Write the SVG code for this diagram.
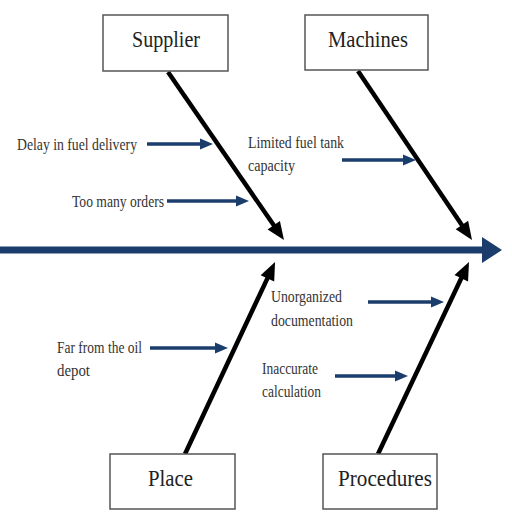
<svg xmlns="http://www.w3.org/2000/svg" width="512" height="512" viewBox="0 0 512 512">
<style>
.box{fill:#fff;stroke:#555;stroke-width:1.5}
.title{font-family:"Liberation Serif","Times New Roman",serif;font-size:23px;fill:#222;text-anchor:middle}
.lbl{font-family:"Liberation Serif","Times New Roman",serif;font-size:16px;fill:#333}
.bone{stroke:#000;stroke-width:4.5;fill:none;marker-end:url(#bh)}
.cause{stroke:#1b3d6c;stroke-width:3.5;fill:none;marker-end:url(#sh)}
.spine{stroke:#1b3d6c;stroke-width:7;fill:none;marker-end:url(#sp)}
</style>
<defs>
<marker id="bh" markerUnits="userSpaceOnUse" markerWidth="20" markerHeight="16" refX="8" refY="7.5" orient="auto" overflow="visible"><path d="M0,0 L18,7.5 L0,15 z" fill="#000"/></marker>
<marker id="sh" markerUnits="userSpaceOnUse" markerWidth="14" markerHeight="12" refX="6" refY="5.5" orient="auto" overflow="visible"><path d="M0,0 L13,5.5 L0,11 z" fill="#1b3d6c"/></marker>
<marker id="sp" markerUnits="userSpaceOnUse" markerWidth="22" markerHeight="28" refX="4" refY="13" orient="auto" overflow="visible"><path d="M0,0 L20,13 L0,26 z" fill="#1b3d6c"/></marker>
</defs>
<rect width="512" height="512" fill="#fff"/>
<g id="connectors">
<line class="spine" x1="0" y1="250" x2="486" y2="250"/>
<line class="bone" x1="168" y1="72" x2="278.3" y2="231.8"/>
<line class="bone" x1="358" y1="71" x2="466.4" y2="231.7"/>
<line class="bone" x1="185" y1="454" x2="270.8" y2="271.1"/>
<line class="bone" x1="378" y1="454" x2="464.7" y2="271"/>
<line class="cause" x1="147" y1="144" x2="206" y2="144"/>
<line class="cause" x1="167" y1="201" x2="242" y2="201"/>
<line class="cause" x1="342" y1="160" x2="409" y2="160"/>
<line class="cause" x1="368" y1="302" x2="437" y2="302"/>
<line class="cause" x1="335" y1="376" x2="401" y2="376"/>
<line class="cause" x1="150" y1="348" x2="221" y2="348"/>
</g>
<g id="supplier"><rect class="box" x="103" y="15" width="125" height="56"/><text class="title" x="166" y="47" textLength="68" lengthAdjust="spacingAndGlyphs">Supplier</text></g>
<g id="machines"><rect class="box" x="305" y="15" width="123" height="55"/><text class="title" x="368" y="47" textLength="80" lengthAdjust="spacingAndGlyphs">Machines</text></g>
<g id="place"><rect class="box" x="110" y="454" width="125" height="55"/><text class="title" x="170.5" y="486" textLength="45" lengthAdjust="spacingAndGlyphs">Place</text></g>
<g id="procedures"><rect class="box" x="323" y="454" width="114" height="55"/><text class="title" x="385" y="486" textLength="94" lengthAdjust="spacingAndGlyphs">Procedures</text></g>
<g id="cause-delay"><text class="lbl" x="17" y="150" textLength="120" lengthAdjust="spacingAndGlyphs">Delay in fuel delivery</text></g>
<g id="cause-orders"><text class="lbl" x="72" y="207" textLength="92" lengthAdjust="spacingAndGlyphs">Too many orders</text></g>
<g id="cause-tank"><text class="lbl" x="248" y="148" textLength="96" lengthAdjust="spacingAndGlyphs">Limited fuel tank</text><text class="lbl" x="248" y="171" textLength="47" lengthAdjust="spacingAndGlyphs">capacity</text></g>
<g id="cause-documentation"><text class="lbl" x="271" y="302" textLength="71" lengthAdjust="spacingAndGlyphs">Unorganized</text><text class="lbl" x="271" y="326" textLength="82" lengthAdjust="spacingAndGlyphs">documentation</text></g>
<g id="cause-calculation"><text class="lbl" x="262" y="374" textLength="56" lengthAdjust="spacingAndGlyphs">Inaccurate</text><text class="lbl" x="262" y="397" textLength="59" lengthAdjust="spacingAndGlyphs">calculation</text></g>
<g id="cause-depot"><text class="lbl" x="57" y="353" textLength="85" lengthAdjust="spacingAndGlyphs">Far from the oil</text><text class="lbl" x="57" y="376" textLength="33" lengthAdjust="spacingAndGlyphs">depot</text></g>
</svg>
